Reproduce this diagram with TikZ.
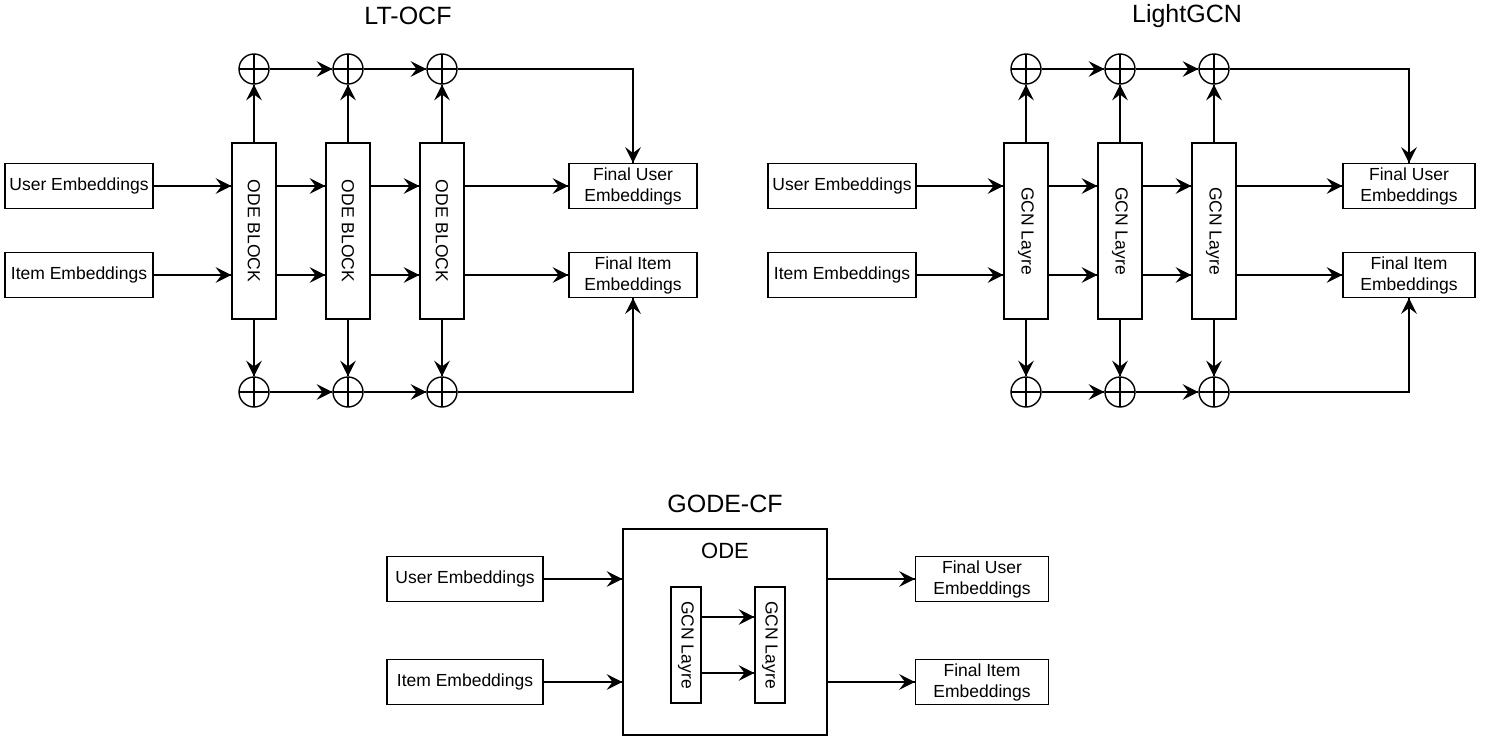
\documentclass[tikz,border=0pt]{standalone}
\usepackage{fontspec}
\setmainfont{Liberation Sans}
\tikzset{->/.style = {decoration={markings, mark=at position 1 with {\arrow[scale=2.8]{stealth}}}, postaction={decorate}}}
\usetikzlibrary{calc,
                 decorations.markings}
\tikzset{
  box/.style = {draw, align=center, inner sep=0pt, minimum height=45pt, font=\fontsize{17.5}{21}\selectfont},
  block/.style = {draw, inner sep=0pt, minimum width=44pt, minimum height=176pt, font=\fontsize{17.5}{21}\selectfont},
  sumnode/.style = {circle, draw, inner sep=0pt, minimum size=30pt,
    path picture={\draw (path picture bounding box.north) -- (path picture bounding box.south)
                        (path picture bounding box.west) -- (path picture bounding box.east);}},
  heading/.style = {font=\fontsize{25}{30}\selectfont}
}

\begin{document}
\begin{tikzpicture}[x=1pt, y=-1pt, line width=1.4pt]
  \useasboundingbox (0,0) rectangle (1494,739);
  % two layered models
  \foreach \d/\ox/\ux/\fx/\fw/\tx/\name/\lab in {1/254/79/633/128/408/LT-OCF/ODE BLOCK,
                                                2/1026/842/1409/132/1187/LightGCN/GCN Layre}{
    \node [heading] (head\d) at (\tx, 16) {\name};
    \node [box, minimum width=148pt] (user\d) at (\ux, 186) {User Embeddings};
    \node [box, minimum width=148pt] (item\d) at (\ux, 275) {Item Embeddings};
    \node [box, minimum width=\fw pt] (fuser\d) at (\fx, 186) {Final User\\Embeddings};
    \node [box, minimum width=\fw pt] (fitem\d) at (\fx, 275) {Final Item\\Embeddings};
    \foreach \i in {1,2,3}{
      \node [block] (b\d\i) at ({\ox+94*(\i-1)}, 231) {\rotatebox{-90}{\lab}};
      \node [sumnode] (t\d\i) at ({\ox+94*(\i-1)}, 69) {};
      \node [sumnode] (s\d\i) at ({\ox+94*(\i-1)}, 392) {};
      \draw [->] (b\d\i) -- (t\d\i);
      \draw [->] (b\d\i) -- (s\d\i);}
    \foreach \i/\j in {1/2,2/3}{
      \draw [->] (b\d\i.east |- user\d) -- (b\d\j.west |- user\d);
      \draw [->] (b\d\i.east |- item\d) -- (b\d\j.west |- item\d);
      \draw [->] (t\d\i) -- (t\d\j);
      \draw [->] (s\d\i) -- (s\d\j);}
    \draw [->] (user\d) -- (b\d1.west |- user\d);
    \draw [->] (item\d) -- (b\d1.west |- item\d);
    \draw [->] (b\d3.east |- user\d) -- (fuser\d);
    \draw [->] (b\d3.east |- item\d) -- (fitem\d);
    \draw [->] (t\d3) -| (fuser\d);
    \draw [->] (s\d3) -| (fitem\d);
  }
  % GODE-CF
  \node [heading] (head3) at (725, 504) {GODE-CF};
  \node [draw, minimum width=204pt, minimum height=206pt] (ode) at (725, 632) {};
  \node [font=\fontsize{22}{26}\selectfont] (odelab) at (725, 551) {ODE};
  \node [block, minimum width=30pt, minimum height=116pt] (g1) at (686, 645) {\rotatebox{-90}{GCN Layre}};
  \node [block, minimum width=30pt, minimum height=116pt] (g2) at (770, 645) {\rotatebox{-90}{GCN Layre}};
  \draw [->] ([yshift=28pt]g1.east) -- ([yshift=28pt]g2.west);
  \draw [->] ([yshift=-28pt]g1.east) -- ([yshift=-28pt]g2.west);
  \node [box, minimum width=156pt] (user3) at (465, 579) {User Embeddings};
  \node [box, minimum width=156pt] (item3) at (465, 682) {Item Embeddings};
  \node [box, minimum width=133pt] (fuser3) at (982, 579) {Final User\\Embeddings};
  \node [box, minimum width=133pt] (fitem3) at (982, 682) {Final Item\\Embeddings};
  \draw [->] (user3) -- (ode.west |- user3);
  \draw [->] (item3) -- (ode.west |- item3);
  \draw [->] (ode.east |- fuser3) -- (fuser3);
  \draw [->] (ode.east |- fitem3) -- (fitem3);
\end{tikzpicture}
\end{document}
